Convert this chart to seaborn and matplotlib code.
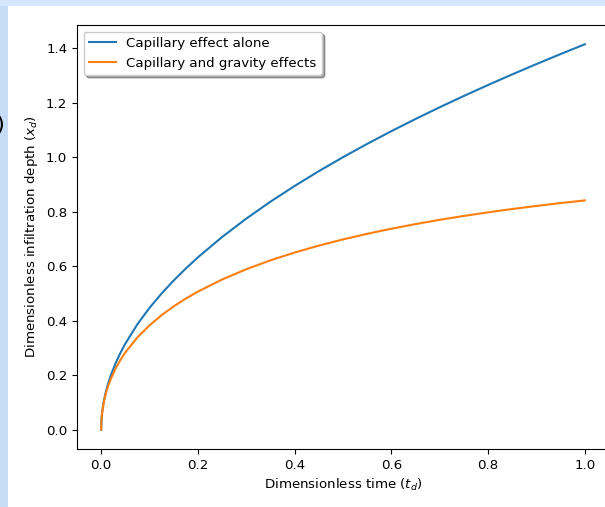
import matplotlib
matplotlib.use("Agg")
import matplotlib.pyplot as plt
from matplotlib.patches import Rectangle
import seaborn as sns
import pandas as pd

# Dimensionless time samples
t_values = [0.0, 0.0001, 0.0005, 0.001, 0.002, 0.0025, 0.005, 0.0075, 0.01, 0.015,
            0.02, 0.03, 0.04, 0.05, 0.075, 0.1, 0.125, 0.15, 0.175, 0.2, 0.25, 0.3,
            0.35, 0.4, 0.45, 0.5, 0.55, 0.6, 0.65, 0.7, 0.75, 0.8, 0.85, 0.9, 0.95, 1.0]
# Capillary effect alone
x_capillary = [0.0, 0.0141, 0.0316, 0.0447, 0.0632, 0.0707, 0.1, 0.1225, 0.1414, 0.1732,
               0.2, 0.2449, 0.2828, 0.3162, 0.3873, 0.4472, 0.5, 0.5477, 0.5916, 0.6325,
               0.7071, 0.7746, 0.8367, 0.8944, 0.9487, 1.0, 1.0488, 1.0954, 1.1402, 1.1832,
               1.2247, 1.2649, 1.3038, 1.3416, 1.3784, 1.4142]
# Capillary and gravity effects
x_cap_grav = [0.0, 0.0141, 0.0313, 0.0440, 0.0619, 0.0691, 0.0967, 0.1176, 0.1348, 0.1634,
              0.1869, 0.2254, 0.2568, 0.2838, 0.339, 0.3832, 0.4204, 0.4526, 0.4812, 0.5068,
              0.5512, 0.5889, 0.6215, 0.6501, 0.6755, 0.6983, 0.7188, 0.7375, 0.7545, 0.7701,
              0.7844, 0.7976, 0.8098, 0.8211, 0.8316, 0.8414]
series_names = ["Capillary effect alone", "Capillary and gravity effects"]

df = pd.DataFrame({
    "t": t_values * 2,
    "x": x_capillary + x_cap_grav,
    "series": [series_names[0]] * len(t_values) + [series_names[1]] * len(t_values),
})

plt.rcParams["font.size"] = 9.6

fig = plt.figure(figsize=(6.05, 5.07), dpi=100)
fig.patch.set_facecolor("white")
# screenshot border bands
fig.patches.append(Rectangle((0, 0), 8 / 605, 1, transform=fig.transFigure,
                             facecolor="#c6dcf7", edgecolor="none", zorder=0))
fig.patches.append(Rectangle((0, 1 - 6 / 507), 1, 6 / 507, transform=fig.transFigure,
                             facecolor="#d3e6fb", edgecolor="none", zorder=0))
fig.text(0.009, 1 - 125 / 507, "0)", ha="right", va="center", fontsize=16, color="black")

ax = fig.add_axes([77 / 605, 1 - 449 / 507, (610 - 77) / 605, (449 - 25) / 507])
sns.lineplot(data=df, x="t", y="x", hue="series", palette=["#1f77b4", "#ff7f0e"],
             ax=ax, linewidth=1.5, estimator=None, sort=False)
ax.set_xlabel("Dimensionless time ($t_d$)")
ax.set_ylabel("Dimensionless infiltration depth ($x_d$)")
ax.set_xticks([0.0, 0.2, 0.4, 0.6, 0.8, 1.0])
ax.set_yticks([0.0, 0.2, 0.4, 0.6, 0.8, 1.0, 1.2, 1.4])
ax.set_xlim(-0.05, 1.052)
ax.set_ylim(-0.0707, 1.4849)
leg = ax.legend(loc="upper left", shadow=True, title=None)

fig.savefig("out.png", dpi=100)
